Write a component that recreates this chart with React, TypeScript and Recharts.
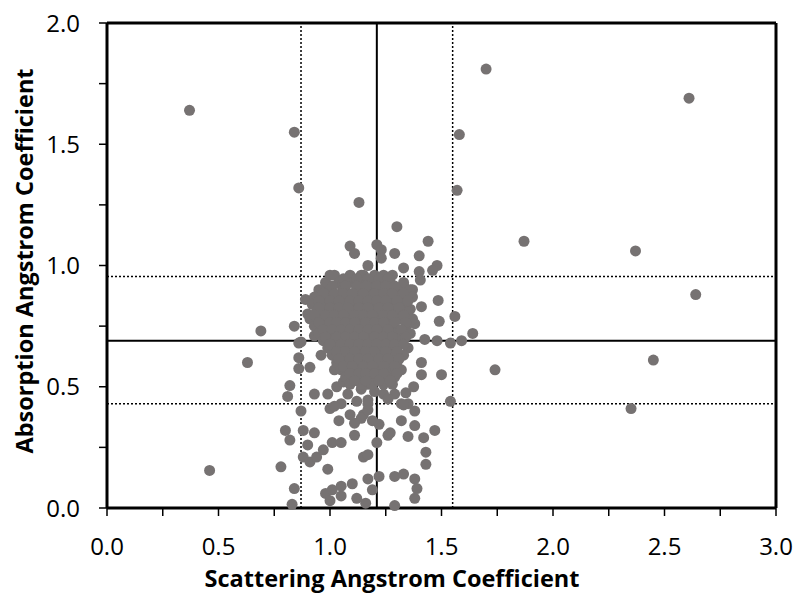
import React from 'react';
import {
  ScatterChart,
  Scatter,
  XAxis,
  YAxis,
  ReferenceLine,
  Label,
} from 'recharts';

// scattered points far from the main cloud
const outliers = [
  [0.37, 1.64], [0.84, 1.55], [0.86, 1.32], [1.13, 1.26], [1.7, 1.81], [1.58, 1.54],
  [1.57, 1.31], [1.87, 1.1], [2.37, 1.06], [2.61, 1.69], [2.64, 0.88], [2.45, 0.61],
  [2.35, 0.41], [1.74, 0.57], [0.63, 0.6], [0.69, 0.73], [0.46, 0.155],
];

// sparse points around the cloud (left, bottom)
const haloLow = [
  [0.84, 0.75], [0.78, 0.17], [0.84, 0.08], [0.83, 0.015], [0.82, 0.505], [0.81, 0.46],
  [0.8, 0.32], [0.82, 0.28], [0.87, 0.4], [0.88, 0.32], [0.93, 0.31], [0.9, 0.26],
  [0.88, 0.21], [0.91, 0.19], [0.94, 0.21], [0.97, 0.24], [0.99, 0.16], [1.01, 0.27],
  [1.05, 0.27], [0.98, 0.06], [1.0, 0.03], [1.01, 0.075], [1.05, 0.05], [1.05, 0.09],
  [1.1, 0.1], [1.12, 0.04], [1.16, 0.02], [1.17, 0.12], [1.19, 0.075], [1.22, 0.13],
  [1.29, 0.13], [1.29, 0.01], [1.33, 0.14], [1.38, 0.12], [1.39, 0.08], [1.38, 0.04],
  [1.15, 0.21], [1.17, 0.22], [1.21, 0.27], [1.11, 0.3], [1.26, 0.3], [1.27, 0.31],
  [1.22, 0.345], [1.19, 0.36], [1.15, 0.385], [1.14, 0.37], [1.11, 0.35], [1.04, 0.36],
  [1.09, 0.385], [1.05, 0.43], [1.0, 0.41], [1.02, 0.42], [1.17, 0.405], [1.17, 0.43],
  [1.32, 0.36], [1.32, 0.43], [1.35, 0.43], [1.38, 0.4], [1.38, 0.34], [1.35, 0.295],
  [1.42, 0.29], [1.47, 0.32], [1.43, 0.23], [1.43, 0.18], [1.54, 0.44],
  [0.93, 0.47], [0.99, 0.47], [0.86, 0.68], [0.86, 0.62], [0.86, 0.575], [0.91, 0.58],
  [0.96, 0.63], [0.87, 0.685], [0.89, 0.86], [0.9, 0.8], [0.93, 0.71], [1.0, 0.67],
  [1.03, 0.5], [1.02, 0.57], [1.17, 0.51], [1.17, 0.445], [1.24, 0.47], [1.29, 0.47],
  [1.34, 0.475], [1.375, 0.5], [1.33, 0.425], [1.41, 0.55], [1.5, 0.55], [1.41, 0.6],
  [1.08, 0.47], [1.12, 0.44], [1.06, 0.52], [1.14, 0.49], [1.2, 0.48], [1.26, 0.45],
];

// sparse points around the cloud (right, top)
const haloHigh = [
  [1.425, 0.695], [1.48, 0.69], [1.54, 0.68], [1.59, 0.69], [1.64, 0.72], [1.49, 0.77],
  [1.56, 0.79], [1.485, 0.856], [1.41, 0.83], [1.36, 0.82], [1.38, 0.76], [1.48, 1.0],
  [1.46, 0.98], [1.44, 1.1], [1.4, 1.04], [1.4, 0.975], [1.405, 0.94], [1.33, 0.99],
  [1.33, 0.92], [1.37, 0.9], [1.3, 1.16], [1.29, 1.05], [1.21, 1.086], [1.23, 1.065],
  [1.23, 1.03], [1.17, 1.0], [1.09, 1.08], [1.11, 1.05], [1.0, 0.96], [1.14, 0.96],
  [1.05, 0.92], [0.99, 0.91],
];

// dense core of the cloud
const core = [
  [1.02, 0.96], [1.09, 0.96], [1.15, 0.96], [1.2, 0.96], [1.24, 0.96], [1.28, 0.96],
  [0.98, 0.93], [1.04, 0.93], [1.1, 0.93], [1.14, 0.93], [1.19, 0.93], [1.23, 0.93], [1.27, 0.93], [1.33, 0.93],
  [0.95, 0.9], [1.0, 0.9], [1.06, 0.9], [1.12, 0.9], [1.17, 0.9], [1.21, 0.9], [1.25, 0.9], [1.3, 0.9], [1.36, 0.9],
  [0.93, 0.87], [0.99, 0.87], [1.03, 0.87], [1.08, 0.87], [1.13, 0.87], [1.18, 0.87], [1.22, 0.87], [1.26, 0.87], [1.31, 0.87], [1.37, 0.87],
  [0.92, 0.84], [0.96, 0.84], [1.01, 0.84], [1.05, 0.84], [1.1, 0.84], [1.15, 0.84], [1.19, 0.84], [1.23, 0.84], [1.28, 0.84], [1.33, 0.84],
  [0.94, 0.81], [0.98, 0.81], [1.03, 0.81], [1.07, 0.81], [1.11, 0.81], [1.16, 0.81], [1.2, 0.81], [1.24, 0.81], [1.29, 0.81], [1.35, 0.81],
  [0.91, 0.78], [0.96, 0.78], [1.0, 0.78], [1.05, 0.78], [1.09, 0.78], [1.13, 0.78], [1.18, 0.78], [1.22, 0.78], [1.26, 0.78], [1.31, 0.78], [1.37, 0.78],
  [0.93, 0.75], [0.98, 0.75], [1.02, 0.75], [1.07, 0.75], [1.11, 0.75], [1.15, 0.75], [1.19, 0.75], [1.23, 0.75], [1.28, 0.75], [1.34, 0.75],
  [0.95, 0.72], [1.0, 0.72], [1.04, 0.72], [1.09, 0.72], [1.13, 0.72], [1.17, 0.72], [1.21, 0.72], [1.25, 0.72], [1.3, 0.72], [1.36, 0.72],
  [0.97, 0.69], [1.02, 0.69], [1.06, 0.69], [1.11, 0.69], [1.15, 0.69], [1.19, 0.69], [1.23, 0.69], [1.27, 0.69], [1.32, 0.69],
  [0.99, 0.66], [1.04, 0.66], [1.08, 0.66], [1.12, 0.66], [1.17, 0.66], [1.21, 0.66], [1.26, 0.66], [1.3, 0.66], [1.35, 0.66],
  [1.01, 0.63], [1.06, 0.63], [1.1, 0.63], [1.14, 0.63], [1.19, 0.63], [1.23, 0.63], [1.28, 0.63], [1.33, 0.63],
  [1.03, 0.6], [1.08, 0.6], [1.12, 0.6], [1.16, 0.6], [1.21, 0.6], [1.25, 0.6], [1.3, 0.6],
  [1.05, 0.57], [1.1, 0.57], [1.14, 0.57], [1.18, 0.57], [1.22, 0.57], [1.27, 0.57], [1.32, 0.57],
  [1.07, 0.54], [1.12, 0.54], [1.17, 0.54], [1.21, 0.54], [1.25, 0.54], [1.29, 0.54],
  [1.09, 0.51], [1.14, 0.51], [1.19, 0.51], [1.24, 0.51], [1.28, 0.51],
];

// more points packed between the core rows
const coreFill = [
  [1.06, 0.945], [1.12, 0.945], [1.17, 0.945], [1.22, 0.945], [1.26, 0.945],
  [1.01, 0.915], [1.07, 0.915], [1.12, 0.915], [1.16, 0.915], [1.21, 0.915], [1.25, 0.915], [1.29, 0.915],
  [0.97, 0.885], [1.02, 0.885], [1.06, 0.885], [1.1, 0.885], [1.15, 0.885], [1.2, 0.885], [1.24, 0.885], [1.28, 0.885], [1.33, 0.885],
  [0.95, 0.855], [1.0, 0.855], [1.04, 0.855], [1.09, 0.855], [1.13, 0.855], [1.17, 0.855], [1.21, 0.855], [1.25, 0.855], [1.3, 0.855], [1.35, 0.855],
  [0.95, 0.825], [1.0, 0.825], [1.04, 0.825], [1.08, 0.825], [1.13, 0.825], [1.17, 0.825], [1.22, 0.825], [1.26, 0.825], [1.31, 0.825],
  [0.93, 0.795], [0.98, 0.795], [1.02, 0.795], [1.06, 0.795], [1.11, 0.795], [1.15, 0.795], [1.19, 0.795], [1.24, 0.795], [1.28, 0.795], [1.33, 0.795],
  [0.95, 0.765], [1.0, 0.765], [1.03, 0.765], [1.07, 0.765], [1.11, 0.765], [1.16, 0.765], [1.2, 0.765], [1.24, 0.765], [1.29, 0.765], [1.34, 0.765],
  [0.97, 0.735], [1.01, 0.735], [1.05, 0.735], [1.09, 0.735], [1.13, 0.735], [1.17, 0.735], [1.21, 0.735], [1.26, 0.735], [1.32, 0.735],
  [0.98, 0.705], [1.03, 0.705], [1.07, 0.705], [1.11, 0.705], [1.15, 0.705], [1.2, 0.705], [1.24, 0.705], [1.28, 0.705], [1.34, 0.705],
  [1.0, 0.675], [1.05, 0.675], [1.09, 0.675], [1.13, 0.675], [1.17, 0.675], [1.21, 0.675], [1.25, 0.675], [1.29, 0.675], [1.33, 0.675],
  [1.03, 0.645], [1.07, 0.645], [1.11, 0.645], [1.16, 0.645], [1.2, 0.645], [1.25, 0.645], [1.3, 0.645],
  [1.04, 0.615], [1.09, 0.615], [1.13, 0.615], [1.17, 0.615], [1.22, 0.615], [1.26, 0.615], [1.31, 0.615],
  [1.06, 0.585], [1.1, 0.585], [1.15, 0.585], [1.19, 0.585], [1.24, 0.585], [1.29, 0.585],
  [1.09, 0.555], [1.13, 0.555], [1.16, 0.555], [1.2, 0.555], [1.24, 0.555], [1.3, 0.555],
  [1.11, 0.525], [1.16, 0.525], [1.22, 0.525], [1.27, 0.525],
];

const xTicks = [0, 0.25, 0.5, 0.75, 1, 1.25, 1.5, 1.75, 2, 2.25, 2.5, 2.75, 3];
const yTicks = [0, 0.25, 0.5, 0.75, 1, 1.25, 1.5, 1.75, 2];

// mean (solid) and mean ± sd (dotted) lines
const xMean = 1.21;
const xBand = [0.87, 1.55];
const yMean = 0.69;
const yBand = [0.43, 0.955];

const points = [...outliers, ...haloLow, ...haloHigh, ...core, ...coreFill].map(([x, y]) => ({ x, y }));

const FONT = '"Open Sans", sans-serif';
const DOT = '#767272';

const fmt = (v: number) => (Math.abs(v * 2 - Math.round(v * 2)) < 1e-6 ? v.toFixed(1) : '');

const Dot = (props: any) => <circle cx={props.cx} cy={props.cy} r={5.5} fill={DOT} />;

export default function App() {
  return (
    <div style={{ position: 'absolute', left: 0, top: 0, width: 796, height: 598, background: '#fff' }}>
      <ScatterChart width={796} height={598} margin={{ top: 23, right: 20, bottom: 0, left: 0 }}>
        <XAxis
          type="number"
          dataKey="x"
          domain={[0, 3]}
          ticks={xTicks}
          interval={0}
          tickFormatter={fmt}
          height={90}
          tickSize={8}
          tickMargin={22}
          axisLine={{ stroke: '#000', strokeWidth: 3 }}
          tickLine={{ stroke: '#000', strokeWidth: 1.5 }}
          tick={{ fill: '#000', fontSize: 24, fontFamily: FONT }}
        >
          <Label
            content={() => (
              <text x={392} y={587} textAnchor="middle" fontFamily={FONT} fontSize={23.5} fontWeight="bold" fill="#000">
                Scattering Angstrom Coefficient
              </text>
            )}
          />
        </XAxis>
        <YAxis
          type="number"
          dataKey="y"
          domain={[0, 2]}
          ticks={yTicks}
          interval={0}
          tickFormatter={fmt}
          width={107}
          tickSize={8}
          tickMargin={19}
          axisLine={{ stroke: '#000', strokeWidth: 3 }}
          tickLine={{ stroke: '#000', strokeWidth: 1.5 }}
          tick={{ fill: '#000', fontSize: 24, fontFamily: FONT }}
        >
          <Label
            content={() => (
              <text
                x={33}
                y={261}
                transform="rotate(-90 33 261)"
                textAnchor="middle"
                fontFamily={FONT}
                fontSize={23.5}
                fontWeight="bold"
                fill="#000"
              >
                Absorption Angstrom Coefficient
              </text>
            )}
          />
        </YAxis>
        <ReferenceLine y={2} stroke="#000" strokeWidth={3} />
        <ReferenceLine x={3} stroke="#000" strokeWidth={3} />
        <ReferenceLine x={xMean} stroke="#000" strokeWidth={2} />
        <ReferenceLine y={yMean} stroke="#000" strokeWidth={2} />
        {xBand.map((v) => (
          <ReferenceLine key={'x' + v} x={v} stroke="#000" strokeWidth={1.5} strokeDasharray="2 2" />
        ))}
        {yBand.map((v) => (
          <ReferenceLine key={'y' + v} y={v} stroke="#000" strokeWidth={1.5} strokeDasharray="2 2" />
        ))}
        <Scatter data={points} shape={Dot} isAnimationActive={false} />
      </ScatterChart>
    </div>
  );
}
